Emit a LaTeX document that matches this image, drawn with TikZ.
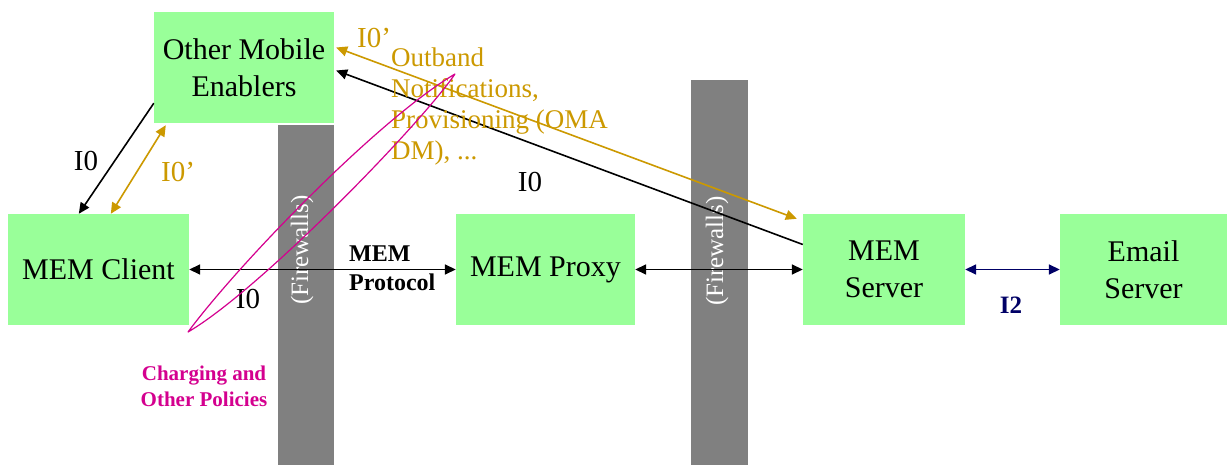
\documentclass[tikz,border=0pt]{standalone}
\usepackage{fontspec}
\setmainfont{Liberation Serif}
\usetikzlibrary{arrows.meta,calc}
\definecolor{boxgreen}{HTML}{99FF99}
\definecolor{fwgray}{HTML}{808080}
\definecolor{goldc}{HTML}{CC9900}
\definecolor{pinkc}{HTML}{D4008F}
\definecolor{navyc}{HTML}{000066}
\tikzset{
  box/.style={fill=boxgreen, draw=none, inner sep=0pt, align=center,
    minimum height=111pt, font=\fontsize{30}{37}\selectfont},
  fwall/.style={fill=fwgray, draw=none, inner sep=0pt},
  fwtext/.style={text=white, rotate=90, inner sep=0pt, font=\fontsize{25}{27}\selectfont},
  onehead/.style={-{Triangle[length=11pt,width=10pt]}},
  twohead/.style={{Triangle[length=11pt,width=10pt]}-{Triangle[length=11pt,width=10pt]}},
  blk/.style={draw=black, line width=1.6pt},
  gld/.style={draw=goldc, line width=1.6pt},
  nav/.style={draw=navyc, line width=1.6pt},
  lbl/.style={inner sep=0pt, font=\fontsize{29}{30}\selectfont},
}
\begin{document}
\begin{tikzpicture}[x=1pt,y=-1pt]
\useasboundingbox[fill=white] (0,0) rectangle (1227,465);
% firewalls
\node[fwall, minimum width=56pt, minimum height=340pt] (fw1) at (306,295) {};
\node[fwall, minimum width=57pt, minimum height=385pt] (fw2) at (719.5,272.5) {};
\node[fwtext] (fw1t) at (302,250) {(Firewalls)};
\node[fwtext] (fw2t) at (717,251) {(Firewalls)};
% boxes
\node[box, minimum width=180pt] (ome) at (244,67.5) {Other Mobile\\Enablers};
\node[box, minimum width=181pt] (client) at (98.5,269.5) {MEM Client};
\node[box, minimum width=179pt] (proxy) at (545.5,269.5) {MEM Proxy};
\node[box, minimum width=162pt] (server) at (884,269.5) {MEM\\Server};
\node[box, minimum width=167pt] (email) at (1143.5,269.5) {Email\\Server};
% connectors
\draw[blk, twohead] (client.east) -- (proxy.west);
\draw[blk, twohead] (proxy.east) -- (server.west);
\draw[nav, twohead] (server.east) -- (email.west);
\draw[blk, onehead] ($(ome.south west)+(0,-20)$) -- ($(client.north west)+(71,0)$);
\draw[gld, twohead] ($(ome.south west)+(12,2)$) -- ($(client.north west)+(103,0)$);
\draw[blk, onehead] ($(server.west)+(0,-25)$) -- ($(ome.east)+(2,3)$);
\draw[gld, twohead] ($(ome.east)+(2,-20)$) -- ($(server.north west)+(-6,5)$);
% labels
\node[lbl] (l1) at (86,161) {I0};
\node[lbl, text=goldc] (l2) at (178,172) {I0'};
\node[lbl, text=goldc] (l3) at (374,38) {I0'};
\node[lbl] (l4) at (530,182) {I0};
\node[lbl] (l5) at (248,299) {I0};
\node[lbl, text=navyc, font=\bfseries\fontsize{25}{27}\selectfont] (l6) at (1011,305) {I2};
\node[inner sep=0pt, anchor=north west, align=left,
  font=\bfseries\fontsize{24}{29}\selectfont] (proto) at (349,246) {MEM\\Protocol};
\node[inner sep=0pt, anchor=north west, align=left, text=goldc,
  font=\fontsize{27}{31}\selectfont] (outb) at (391,48)
  {Outband\\Notifications,\\Provisioning (OMA\\DM), ...};
\node[inner sep=0pt, align=center, text=pinkc,
  font=\bfseries\fontsize{21}{26}\selectfont] (charg) at (204,386)
  {Charging and\\Other Policies};
% pink loop
\draw[pinkc, line width=1.2pt, line join=round]
  (188,332) .. controls (240,262) and (380,118) .. (455,74)
  .. controls (420,125) and (260,290) .. (188,332) -- cycle;
\end{tikzpicture}
\end{document}
